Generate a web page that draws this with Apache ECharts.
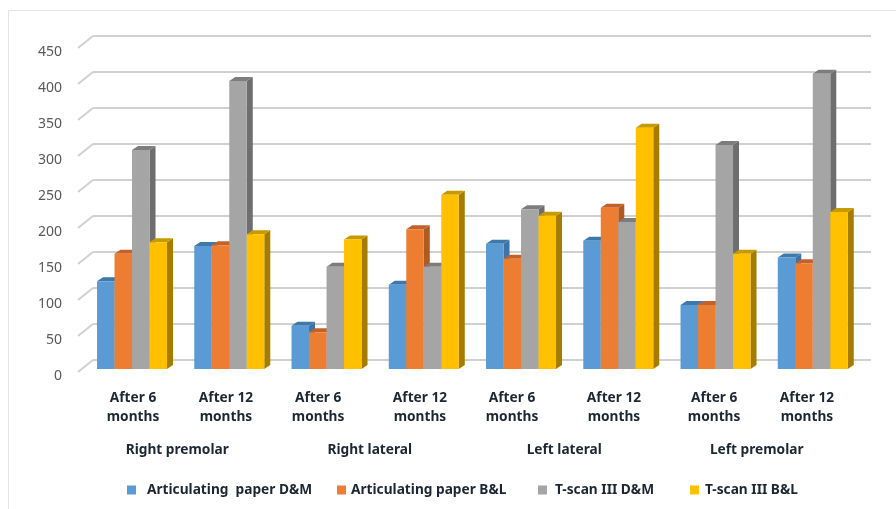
<!DOCTYPE html>
<html><head><meta charset="utf-8">
<style>html,body{margin:0;padding:0;background:#fff}#c{width:896px;height:509px}</style>
<script src="https://cdn.jsdelivr.net/npm/echarts@6/dist/echarts.min.js"></script>
</head><body><div id="c"></div>
<script>
const categories = ["After 6\nmonths","After 12\nmonths","After 6\nmonths","After 12\nmonths","After 6\nmonths","After 12\nmonths","After 6\nmonths","After 12\nmonths"];
const groups = ["Right premolar","Right lateral","Left lateral","Left premolar"];
const yTicks = [0,50,100,150,200,250,300,350,400,450];
const seriesNames = ["Articulating  paper D&M","Articulating paper B&L","T-scan III D&M","T-scan III B&L"];
const paperDM = [122,171,60,117,174,178,89,155];
const paperBL = [160,172,51,194,153,224,89,147];
const tscanDM = [304,400,142,142,222,204,311,410];
const tscanBL = [176,187,180,242,213,335,160,218];
const labelNudge = [-8.6,-12.9,-18,-13.4,-18.6,-13.9,-11,-15.4];
const groupNudge = [-13,-15,-15,-17];
const legendLeft = [122,332,533,685];
const legendPad = [6,0,3,1];
const front = ["#5b9bd5","#ed7d31","#a5a5a5","#ffc000"];
const top_ = ["#3f78ab","#c4612a","#7d7d7d","#c99a00"];
const side = ["#3d73a6","#ae5a21","#6e6e6e","#a67c00"];
const DX=-9.6, DY=9, BW=17.5, DEPTH_X=6, DEPTH_Y=4;
const INK='#1c2733', FONT=13.7;

const barSeries = (vals,s)=>({
  type:'custom', name:seriesNames[s], coordinateSystem:'cartesian2d', clip:false, z:5+s,
  itemStyle:{color:front[s]},
  data:vals.map((v,i)=>[i,v]), encode:{x:0,y:1},
  renderItem(params,api){
    const p=api.coord([api.value(0),api.value(1)]), b=api.coord([api.value(0),0]);
    const x=p[0]+DX-2*BW+s*BW, y=p[1]+DY, y0=b[1]+DY, r=x+BW;
    return {type:'group',children:[
      {type:'polygon',shape:{points:[[r,y],[r+DEPTH_X,y-DEPTH_Y],[r+DEPTH_X,y0-DEPTH_Y],[r,y0]]},style:{fill:side[s]}},
      {type:'polygon',shape:{points:[[x,y],[x+DEPTH_X,y-DEPTH_Y],[r+DEPTH_X,y-DEPTH_Y],[r,y]]},style:{fill:top_[s]}},
      {type:'rect',shape:{x:x,y:y,width:BW,height:y0-y},style:{fill:front[s]}}
    ]};
  }
});

const rich={};
labelNudge.forEach((n,i)=>{rich['n'+i]={fontFamily:'Noto Sans',fontWeight:'bold',fontSize:FONT,color:INK,lineHeight:19,
  padding:n<0?[0,-2*n,0,0]:[0,0,0,2*n]};});

const chart=echarts.init(document.getElementById('c'),null,{renderer:'canvas'});
chart.setOption({
  animation:false, backgroundColor:'#fff',
  grid:{left:93,right:25,top:36,height:324,containLabel:false},
  graphic:[{type:'polyline',silent:true,shape:{points:[[8.5,509],[8.5,10.5],[896,10.5]]},style:{stroke:'#e4e4e4',lineWidth:1,fill:null}}],
  legend:seriesNames.map((n,i)=>({left:legendLeft[i],top:478,itemWidth:9,itemHeight:9,icon:'rect',data:[n],selectedMode:false,
    textStyle:{fontFamily:'Noto Sans',fontWeight:'bold',fontSize:FONT,color:INK,padding:[0,0,0,legendPad[i]]}})),
  xAxis:{type:'category',data:categories,axisLine:{show:false},axisTick:{show:false},
    axisLabel:{margin:29,interval:0,formatter:(v,i)=>v.split('\n').map(t=>`{n${i}|${t}}`).join('\n'),rich}},
  yAxis:{type:'value',min:0,max:450,interval:50,axisLine:{show:false},axisTick:{show:false},
    splitLine:{show:true,lineStyle:{color:'#d0d0d0',width:2}},
    axisLabel:{margin:31,fontFamily:'Noto Sans',fontSize:14,color:'#595959',verticalAlign:'top',padding:[9,0,0,0]}},
  series:[
    {type:'custom',name:'walls',coordinateSystem:'cartesian2d',clip:false,z:1,silent:true,
     data:yTicks.map(v=>[0,v]),encode:{x:0,y:1},
     renderItem(params,api){
       const y=api.coord([0,api.value(1)])[1], x=params.coordSys.x;
       return {type:'line',shape:{x1:x,y1:y,x2:x-15,y2:y+12},style:{stroke:'#d0d0d0',lineWidth:2}};
     }},
    barSeries(paperDM,0),barSeries(paperBL,1),barSeries(tscanDM,2),barSeries(tscanBL,3),
    {type:'custom',name:'groups',coordinateSystem:'cartesian2d',clip:false,z:6,silent:true,
     data:groups.map((g,i)=>[i*2,0]),encode:{x:0,y:1},
     renderItem(params,api){
       const i=params.dataIndex, a=api.coord([i*2,0]), c=api.coord([i*2+1,0]);
       return {type:'text',style:{text:groups[i],x:(a[0]+c[0])/2+groupNudge[i],y:a[1]+90,align:'center',verticalAlign:'middle',
         font:'bold '+FONT+'px "Noto Sans"',fill:INK}};
     }}
  ]
});
</script></body></html>
